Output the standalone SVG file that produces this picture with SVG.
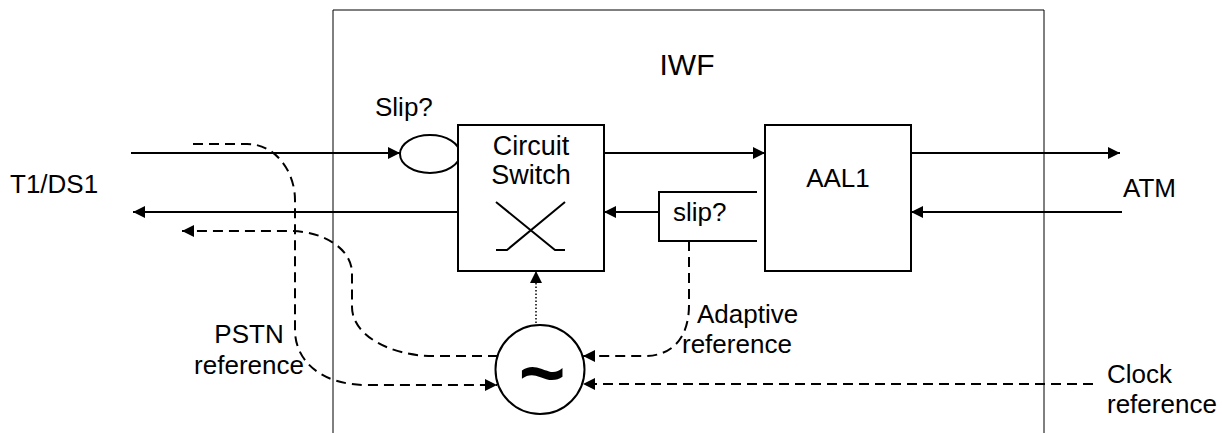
<svg xmlns="http://www.w3.org/2000/svg" width="1222" height="433" viewBox="0 0 1222 433">
<style>
text{font-family:"Liberation Sans",Arial,sans-serif;font-size:26px;fill:#000}
text.big{font-size:30px}
text.cs{font-size:27px}
text.tilde{font-size:80px;font-weight:bold}
.ln{fill:none;stroke:#000;stroke-width:2}
.dash{fill:none;stroke:#000;stroke-width:2;stroke-dasharray:10 6}
.dot{fill:none;stroke:#000;stroke-width:1.5;stroke-dasharray:1.5 2}
.box{fill:#fff;stroke:#000;stroke-width:2}
</style>
<defs>
<marker id="ah" viewBox="0 0 12 12" refX="12" refY="6" markerWidth="12" markerHeight="12" markerUnits="userSpaceOnUse" orient="auto">
<path d="M0,0 L12,6 L0,12 Z" fill="#000"/>
</marker>
</defs>
<rect width="1222" height="433" fill="#fff"/>
<g id="iwf">
<path d="M333,440 V10 H1044 V440" fill="none" stroke="#000" stroke-width="1"/>
<text class="big" x="687" y="75" text-anchor="middle">IWF</text>
</g>
<g id="t1ds1"><text x="10" y="193">T1/DS1</text></g>
<g id="atm"><text x="1123" y="197">ATM</text></g>
<g id="slip-in">
<ellipse cx="430" cy="154" rx="30" ry="19" class="box"/>
<text x="375" y="116">Slip?</text>
</g>
<g id="circuit-switch">
<rect x="458" y="125" width="146" height="146" class="box"/>
<text class="cs" x="531" y="155" text-anchor="middle">Circuit</text>
<text class="cs" x="531" y="184" text-anchor="middle">Switch</text>
<path d="M496,202 L555,250 H565 M565,202 L507,250 H496" class="ln"/>
</g>
<g id="aal1">
<rect x="765" y="125" width="146" height="146" class="box"/>
<text x="838" y="187" text-anchor="middle">AAL1</text>
</g>
<g id="slip-out">
<path d="M757,192 H659 V241 H757" class="ln"/>
<text x="673" y="221">slip?</text>
</g>
<g id="oscillator">
<circle cx="540" cy="369.5" r="44.5" class="box"/>
<text class="tilde" x="542" y="400" text-anchor="middle">~</text>
</g>
<g id="labels">
<text x="249" y="343" text-anchor="middle">PSTN</text>
<text x="249" y="374" text-anchor="middle">reference</text>
<text x="697" y="323">Adaptive</text>
<text x="682" y="353">reference</text>
<text x="1107" y="383">Clock</text>
<text x="1107" y="413">reference</text>
</g>
<g id="connectors">
<path d="M131,153 H400" class="ln" marker-end="url(#ah)"/>
<path d="M458,212 H133" class="ln" marker-end="url(#ah)"/>
<path d="M604,153 H765" class="ln" marker-end="url(#ah)"/>
<path d="M659,212 H604" class="ln" marker-end="url(#ah)"/>
<path d="M911,153 H1120" class="ln" marker-end="url(#ah)"/>
<path d="M1122,212 H911" class="ln" marker-end="url(#ah)"/>
<path d="M536,323 V271" class="dot" marker-end="url(#ah)"/>
<path d="M193,144 H247 C276,144 295,172 295,200 V330 C295,360 320,385 367,385 H497" class="dash" marker-end="url(#ah)"/>
<path d="M498,356 H433 C390,356 352,335 352,307 V273 C352,250 325,231 290,231 H182" class="dash" marker-end="url(#ah)"/>
<path d="M689,241 V305 C689,340 670,356 645,356 H583" class="dash" marker-end="url(#ah)"/>
<path d="M1093,384 H583" class="dash" marker-end="url(#ah)"/>
</g>
</svg>
